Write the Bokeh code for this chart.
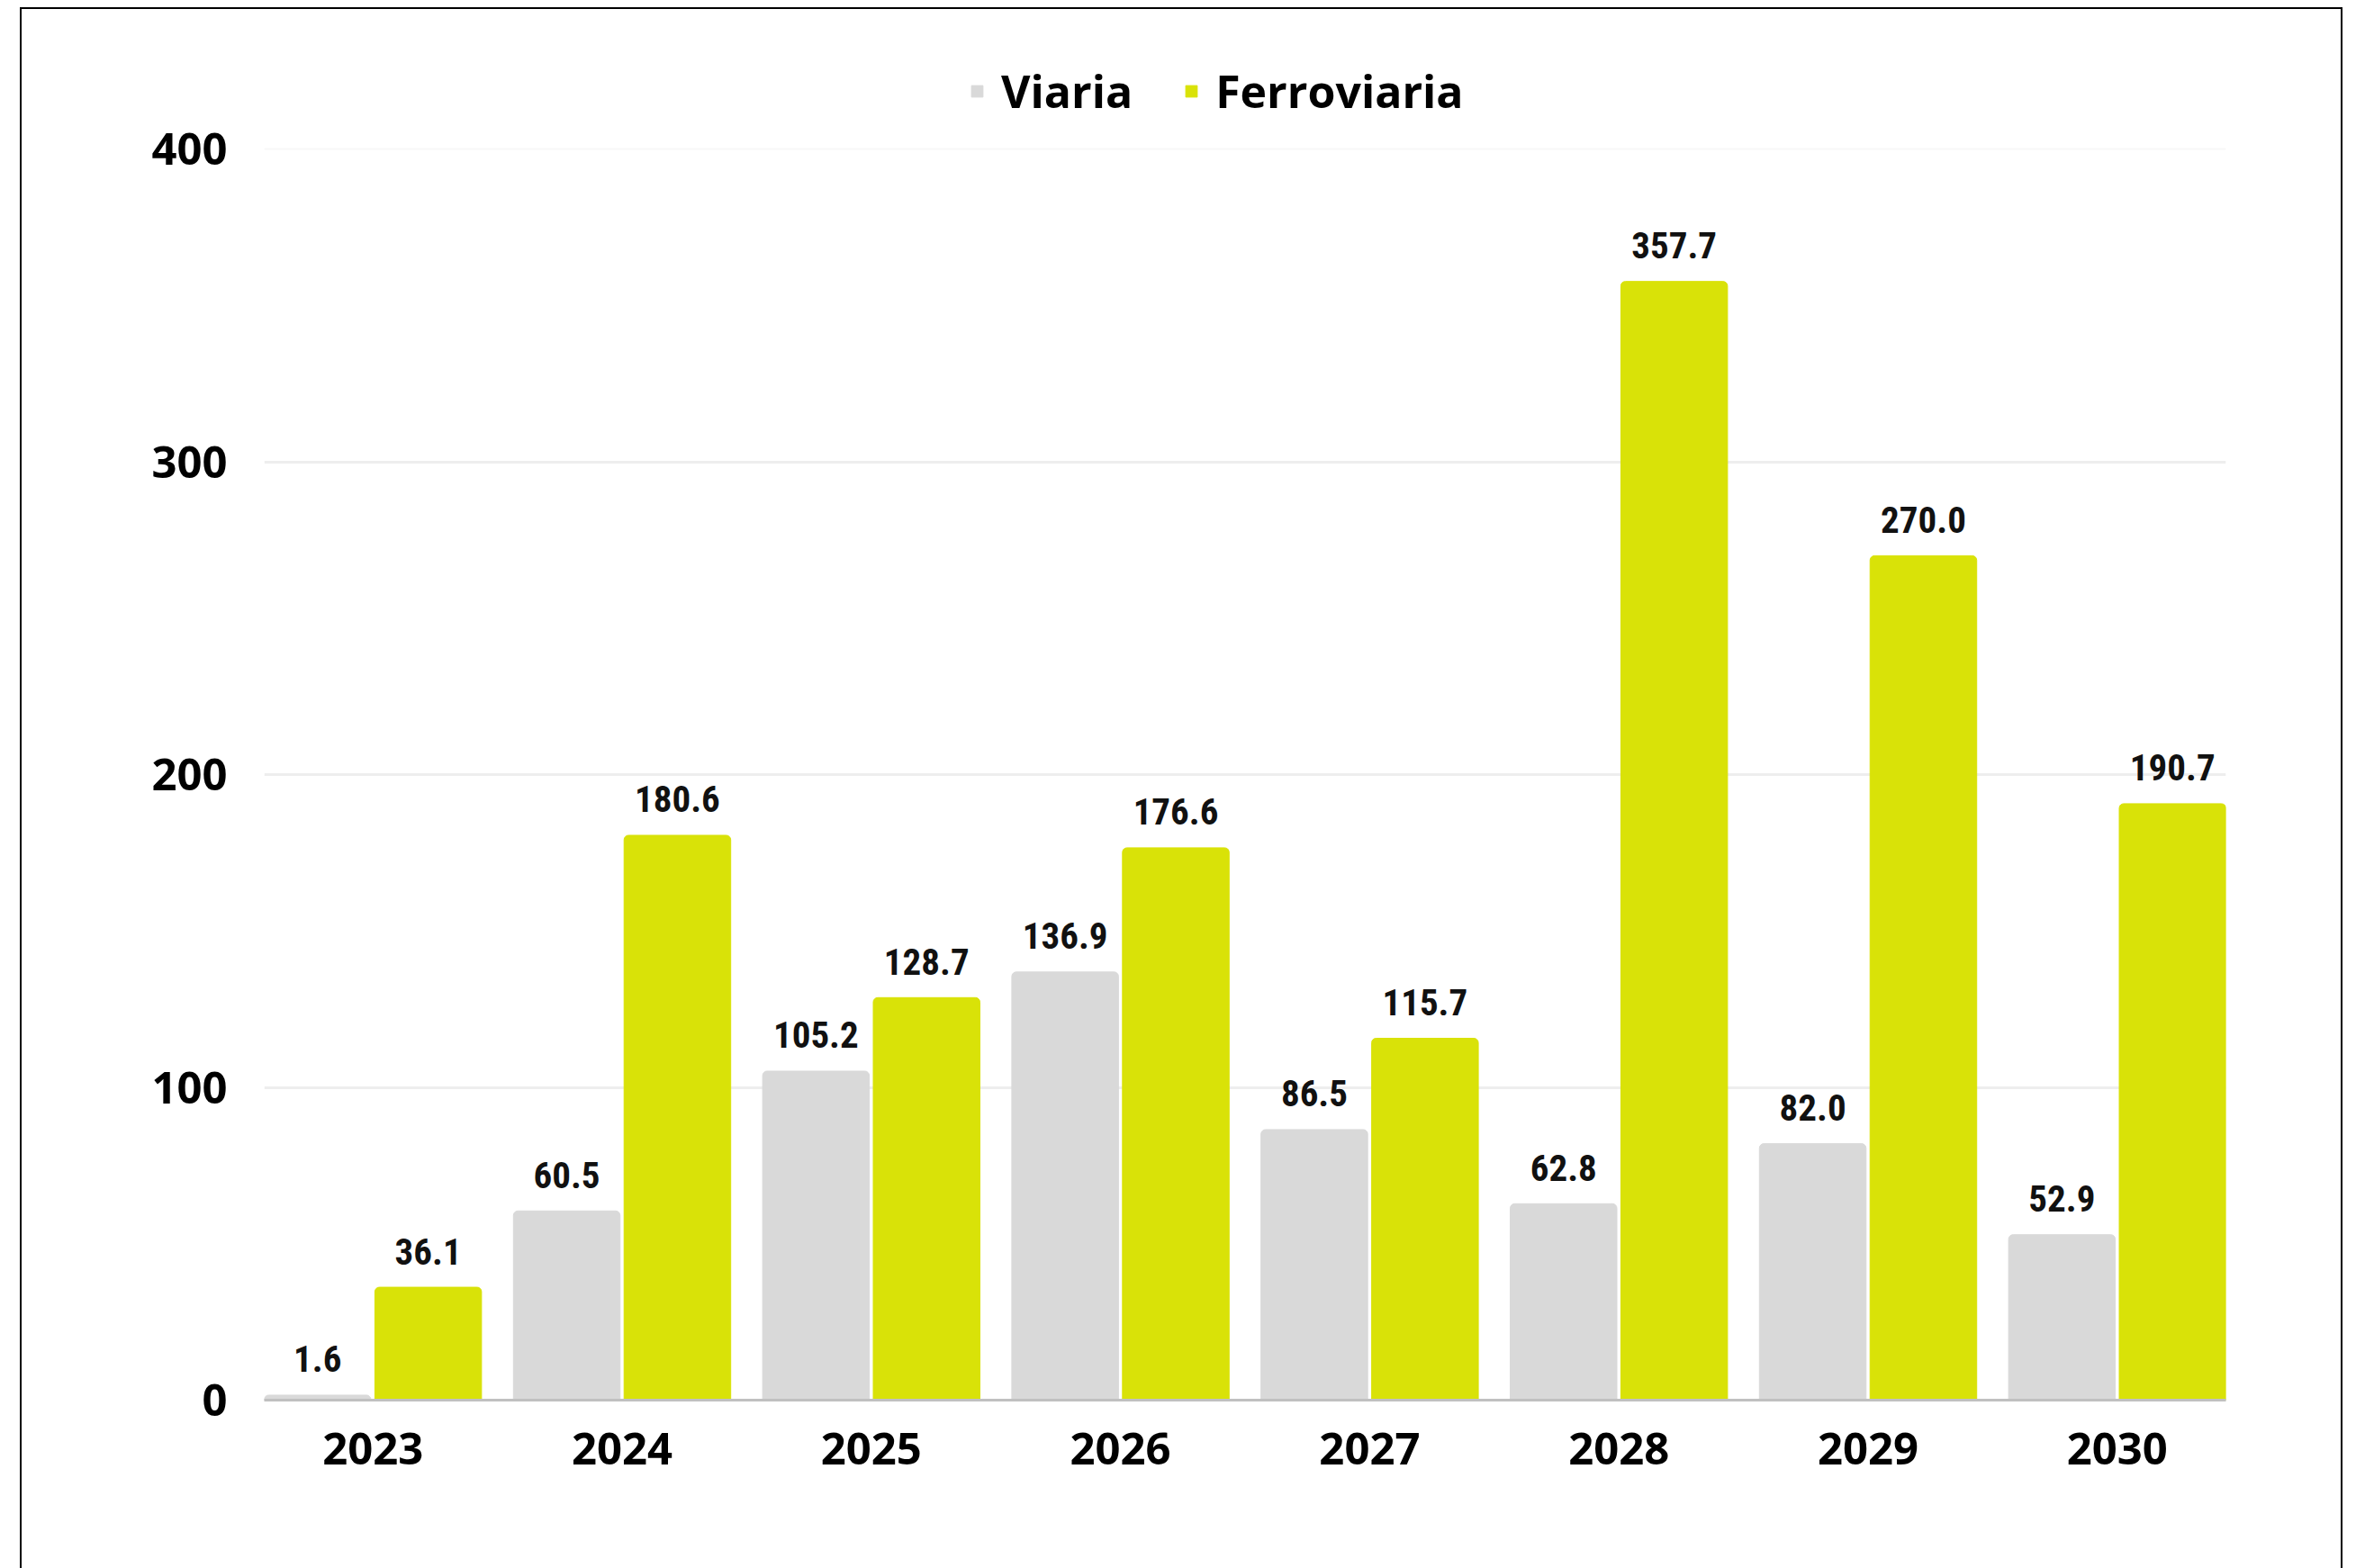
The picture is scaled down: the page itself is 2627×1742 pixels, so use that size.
from bokeh.plotting import figure
from bokeh.models import ColumnDataSource, FixedTicker, Legend, LegendItem, Grid
from bokeh.transform import dodge
from bokeh.core.properties import value
from bokeh.embed import file_html
from bokeh.resources import INLINE

years = [2023, 2024, 2025, 2026, 2027, 2028, 2029, 2030]
viaria = [1.6, 60.5, 105.2, 136.9, 86.5, 62.8, 82.0, 52.9]
ferroviaria = [36.1, 180.6, 128.7, 176.6, 115.7, 357.7, 270.0, 190.7]
y_ticks = [0, 100, 200, 300, 400]

src = ColumnDataSource(dict(
    year=years,
    viaria=viaria,
    ferroviaria=ferroviaria,
    viaria_lbl=[f"{v:.1f}" for v in viaria],
    ferroviaria_lbl=[f"{v:.1f}" for v in ferroviaria],
))

GREY = "#d9d9d9"
LIME = "#d9e208"
BW = 0.428
OFF = 0.222

p = figure(width=2580, height=1734, output_backend="svg", toolbar_location=None,
           x_range=(years[0] - OFF - BW / 2, years[-1] + OFF + BW / 2),
           y_range=(0, 432),
           min_border_left=269, min_border_right=132,
           min_border_top=44, min_border_bottom=189)
p.margin = (8, 0, 0, 22)
p.styles = {"border-left": "2px solid #000", "border-top": "2px solid #000",
            "border-right": "2px solid #000", "box-sizing": "border-box"}
p.outline_line_color = None
p.background_fill_color = "white"
p.border_fill_color = "white"

r1 = p.vbar(x=dodge("year", -OFF), top="viaria", width=BW, source=src,
            fill_color=GREY, line_color=GREY, line_width=1,
            border_radius=(5, 5, 0, 0))
r2 = p.vbar(x=dodge("year", OFF), top="ferroviaria", width=BW, source=src,
            fill_color=LIME, line_color=LIME, line_width=1,
            border_radius=(5, 5, 0, 0))

lbl_font = value("Roboto Condensed, DejaVu Sans Condensed, Liberation Sans Narrow, Roboto, sans-serif")
p.text(x=dodge("year", -OFF), y="viaria", text="viaria_lbl", source=src,
       text_font=lbl_font, text_font_style="bold", text_font_size="41px",
       text_align="center", text_baseline="alphabetic", y_offset=-40,
       text_color="#111111")
p.text(x=dodge("year", OFF), y="ferroviaria", text="ferroviaria_lbl", source=src,
       text_font=lbl_font, text_font_style="bold", text_font_size="41px",
       text_align="center", text_baseline="alphabetic", y_offset=-40,
       text_color="#111111")

# axes
p.xaxis.ticker = FixedTicker(ticks=years)
p.xaxis.major_tick_line_color = None
p.xaxis.minor_tick_line_color = None
p.xaxis.axis_line_color = "#c0c0c0"
p.xaxis.axis_line_width = 3
p.xaxis.major_label_text_font = "Open Sans"
p.xaxis.major_label_text_font_style = "bold"
p.xaxis.major_label_text_font_size = "49px"
p.xaxis.major_label_text_color = "#000000"
p.xaxis.major_label_standoff = 30

p.yaxis.ticker = FixedTicker(ticks=y_ticks)
p.yaxis.axis_line_color = None
p.yaxis.major_tick_line_color = None
p.yaxis.minor_tick_line_color = None
p.yaxis.major_label_text_font = "Open Sans"
p.yaxis.major_label_text_font_style = "bold"
p.yaxis.major_label_text_font_size = "49px"
p.yaxis.major_label_text_color = "#000000"
p.yaxis.major_label_standoff = 35

p.xgrid.grid_line_color = None
p.ygrid.ticker = FixedTicker(ticks=y_ticks[:-1])
p.ygrid.grid_line_color = "#eeeeee"
p.ygrid.grid_line_width = 3
top_grid = Grid(dimension=1, ticker=FixedTicker(ticks=y_ticks[-1:]),
                grid_line_color="#f8f8f8", grid_line_width=2)
p.add_layout(top_grid)

legend = Legend(items=[LegendItem(label="Viaria", renderers=[r1]),
                       LegendItem(label="Ferroviaria", renderers=[r2])],
                orientation="horizontal", location=(784, 1420),
                glyph_width=16, glyph_height=16, label_standoff=19, spacing=57,
                padding=0, margin=0, border_line_color=None,
                background_fill_alpha=0,
                label_text_font="Open Sans", label_text_font_style="bold",
                label_text_font_size="50px", label_text_color="#000000")
p.add_layout(legend, "center")

open("out.html", "w").write(file_html(p, INLINE))
